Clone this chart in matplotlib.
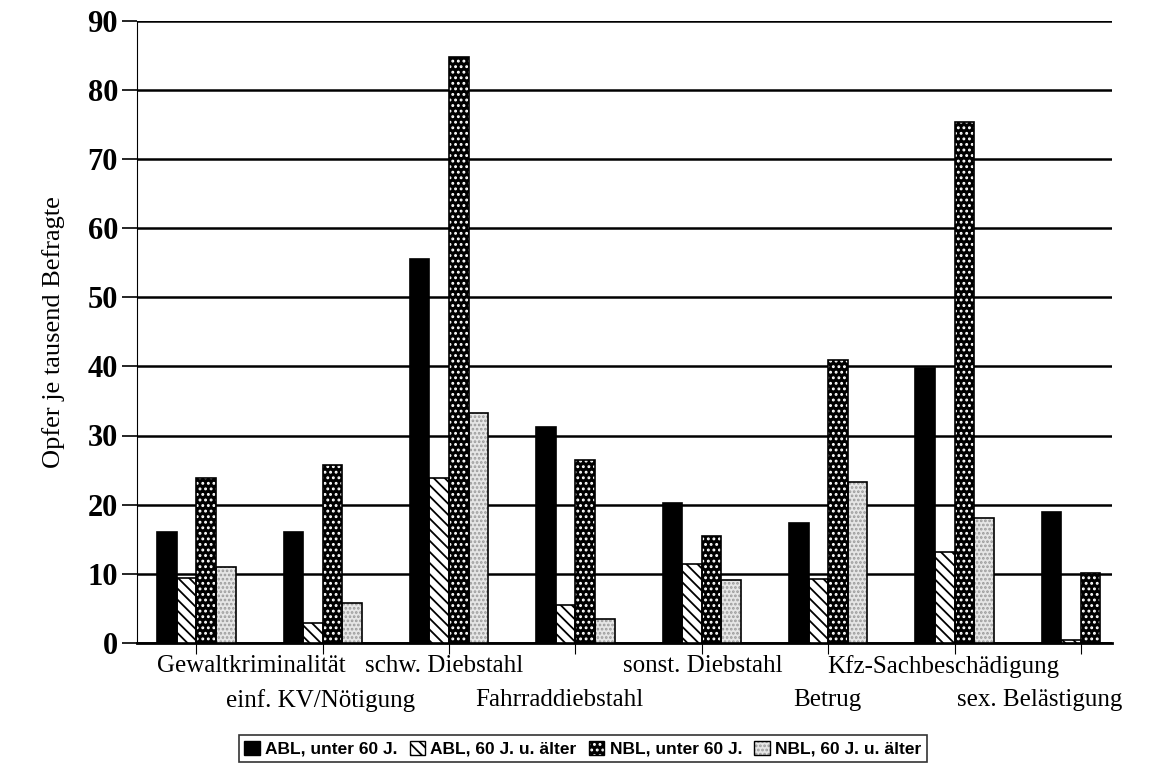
import numpy as np
import matplotlib
matplotlib.use('Agg')
import matplotlib.pyplot as plt
from matplotlib.patches import Patch
from matplotlib.transforms import ScaledTranslation

# categories (bottom labels, alternating in two rows)
categories = ['Gewaltkriminalität', 'einf. KV/Nötigung', 'schw. Diebstahl',
              'Fahrraddiebstahl', 'sonst. Diebstahl', 'Betrug',
              'Kfz-Sachbeschädigung', 'sex. Belästigung']

# victims per thousand respondents
abl_unter60 = [16, 16, 55.5, 31.3, 20.3, 17.3, 39.8, 18.9]
abl_60plus = [9.3, 2.8, 23.8, 5.5, 11.4, 9.2, 13.2, 0.4]
nbl_unter60 = [23.8, 25.8, 84.8, 26.5, 15.4, 40.9, 75.4, 10.1]
nbl_60plus = [10.9, 5.8, 33.3, 3.5, 9.1, 23.2, 18.1, 0]

series_names = ['ABL, unter 60 J.', 'ABL, 60 J. u. älter',
                'NBL, unter 60 J.', 'NBL, 60 J. u. älter']
yticks = list(range(0, 91, 10))

plt.rcParams['hatch.linewidth'] = 1.3
serif = 'Liberation Serif'

# face colour, hatch, hatch colour per series
styles = [('black', '', 'black'),
          ('white', '\\\\\\', 'black'),
          ('black', '...', 'white'),
          ('#e6e6e6', '....', '#9a9a9a')]

fig = plt.figure(figsize=(11.54, 7.80), dpi=100)
ax = fig.add_axes([0.119, 0.176, 0.845, 0.797])

x = np.arange(len(categories))
w = 0.155
data = [abl_unter60, abl_60plus, nbl_unter60, nbl_60plus]
for i, vals in enumerate(data):
    fc, h, hc = styles[i]
    pos = x + (i - 1.5) * w
    ax.bar(pos, vals, w, color=fc, hatch=h, edgecolor=hc, linewidth=0, zorder=3)
    ax.bar(pos, vals, w, fill=False, edgecolor='black', linewidth=1.2, zorder=4)

ax.set_ylim(0, 90)
ax.set_xlim(-0.467, 7.25)
ax.set_yticks(yticks)
ax.set_yticklabels([str(t) for t in yticks], fontfamily=serif,
                   fontweight='bold', fontsize=22)
ax.yaxis.grid(True, color='black', linewidth=1.8, zorder=0)
ax.set_axisbelow(True)
for s in ['top', 'right']:
    ax.spines[s].set_visible(False)
ax.spines['left'].set_linewidth(0.8)
ax.spines['left'].set_linestyle((0, (3, 1)))
ax.spines['bottom'].set_linewidth(2)
ax.tick_params(axis='y', length=11, width=1.2, pad=3)
ax.tick_params(axis='x', length=8, width=0.8, labelbottom=False)
ax.set_xticks(x)

# two-row category labels, shifted in pixels like the original
offsets = [55, -2, -5, -16, 1, -1, -11, -41]
for i, lab in enumerate(categories):
    row = i % 2
    tr = ax.get_xaxis_transform() + ScaledTranslation(offsets[i] / 100, 0, fig.dpi_scale_trans)
    ax.text(i, -0.02 - row * 0.055, lab, transform=tr, ha='center', va='top',
            fontfamily=serif, fontsize=18)

ax.set_ylabel('Opfer je tausend Befragte', fontfamily=serif, fontsize=19, labelpad=16)

handles = [Patch(facecolor='black', edgecolor='black'),
           Patch(facecolor='white', hatch='\\\\\\', edgecolor='black'),
           (Patch(facecolor='black', hatch='...', edgecolor='white', linewidth=0),
            Patch(fill=False, edgecolor='black')),
           (Patch(facecolor='#e6e6e6', hatch='....', edgecolor='#9a9a9a', linewidth=0),
            Patch(fill=False, edgecolor='black'))]
leg = fig.legend(handles, series_names, loc='lower center', bbox_to_anchor=(0.505, 0.012),
                 ncol=4, frameon=True, fancybox=False, handlelength=0.9,
                 handleheight=0.9, handletextpad=0.3, columnspacing=0.7,
                 borderpad=0.3, prop={'family': 'Liberation Sans', 'weight': 'bold', 'size': 12.5})
leg.get_frame().set_edgecolor('black')
leg.get_frame().set_linewidth(1.2)

fig.savefig('out.png', dpi=100)
